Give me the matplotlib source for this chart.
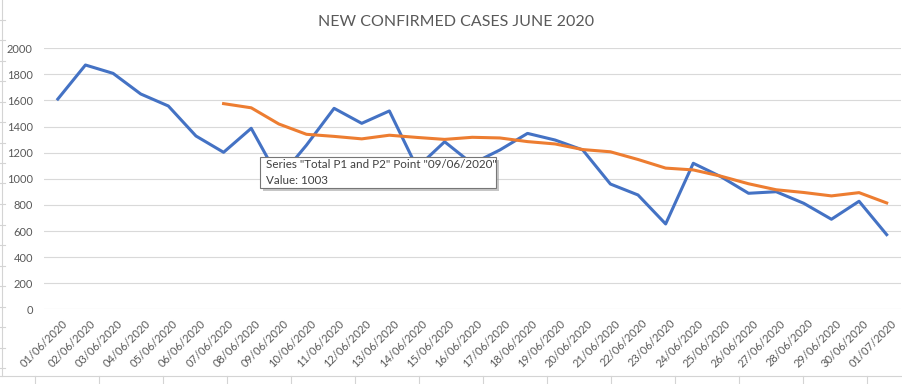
import matplotlib
matplotlib.use("Agg")
import matplotlib.pyplot as plt
from matplotlib.lines import Line2D
from matplotlib.patches import Rectangle
from matplotlib.transforms import ScaledTranslation

plt.rcParams['font.family'] = ['Lato', 'DejaVu Sans']

# data
dates = ["01/06/2020", "02/06/2020", "03/06/2020", "04/06/2020", "05/06/2020",
         "06/06/2020", "07/06/2020", "08/06/2020", "09/06/2020", "10/06/2020",
         "11/06/2020", "12/06/2020", "13/06/2020", "14/06/2020", "15/06/2020",
         "16/06/2020", "17/06/2020", "18/06/2020", "19/06/2020", "20/06/2020",
         "21/06/2020", "22/06/2020", "23/06/2020", "24/06/2020", "25/06/2020",
         "26/06/2020", "27/06/2020", "28/06/2020", "29/06/2020", "30/06/2020",
         "01/07/2020"]
total_p1_p2 = [1611, 1872, 1808, 1650, 1558, 1328, 1203, 1387, 1003, 1258,
               1540, 1425, 1520, 1085, 1284, 1115, 1221, 1348, 1297, 1221,
               960, 876, 654, 1119, 1016, 889, 901, 812, 690, 828, 572]
# 7 day average, starts on 07/06
avg_start = 6
avg_7day = [1576, 1544, 1420, 1341, 1325, 1306, 1334, 1317, 1302, 1318,
            1313, 1285, 1267, 1224, 1207, 1148, 1082, 1068, 1020, 962,
            916, 895, 869, 894, 815]
y_ticks = [0, 200, 400, 600, 800, 1000, 1200, 1400, 1600, 1800, 2000]

W, H = 902, 384
fig = plt.figure(figsize=(W / 100, H / 100), dpi=100)

def fx(x):
    return x / W

def fy(y):
    return 1 - y / H

# plot area in pixels: x 44..900.5, y 48.3..309.3
ax = fig.add_axes([fx(44), fy(309.3), fx(900.5) - fx(44), fy(48.3) - fy(309.3)])

x = list(range(len(dates)))
ax.plot(x, total_p1_p2, color="#4472C4", lw=2.2, solid_joinstyle="round")
ax.plot(x[avg_start:], avg_7day, color="#ED7D31", lw=2.2, solid_joinstyle="round")

ax.set_xlim(-0.5, len(dates) - 0.5)
ax.set_ylim(0, 2000)
ax.set_yticks(y_ticks)
ax.set_xticks(x)
ax.set_xticklabels(dates, rotation=45, ha="right", va="top", rotation_mode="anchor")
ax.grid(axis="y", color="#d9d9d9", lw=0.8)
ax.set_axisbelow(True)
for s in ax.spines.values():
    s.set_visible(False)
ax.tick_params(axis="both", length=0, colors="#595959", labelsize=8)
ax.tick_params(axis="y", pad=8)
ax.tick_params(axis="x", pad=6)
shift = ScaledTranslation(4 / 100, 0, fig.dpi_scale_trans)
for lab in ax.get_xticklabels():
    lab.set_transform(lab.get_transform() + shift)

fig.text(fx(456), fy(22), "NEW CONFIRMED CASES JUNE 2020", ha="center", va="center",
         fontsize=11.5, color="#595959")

# hover tooltip
tx0, ty0, tx1, ty1 = 260, 157, 496, 188
fig.patches.append(Rectangle((fx(tx0 + 3), fy(ty1 + 3)), fx(tx1 - tx0), fy(ty0) - fy(ty1),
                             transform=fig.transFigure, facecolor="#a0a0a0", edgecolor="none",
                             alpha=0.6, zorder=5))
fig.patches.append(Rectangle((fx(tx0), fy(ty1)), fx(tx1 - tx0), fy(ty0) - fy(ty1),
                             transform=fig.transFigure, facecolor="white", edgecolor="#767676",
                             lw=0.8, zorder=6))
fig.text(fx(266), fy(165), 'Series "Total P1 and P2" Point "09/06/2020"', ha="left", va="center",
         fontsize=8.4, color="#404040", zorder=7)
fig.text(fx(266), fy(180), "Value: 1003", ha="left", va="center",
         fontsize=8.4, color="#404040", zorder=7)

# spreadsheet cell lines around the chart
cell = "#d4d4d4"
fig.add_artist(Line2D([0, 1], [fy(376), fy(376)], color=cell, lw=0.8))
fig.add_artist(Line2D([fx(2), fx(2)], [fy(376), 1], color=cell, lw=0.8))
cx = 35
while cx < W:
    fig.add_artist(Line2D([fx(cx), fx(cx)], [0, fy(376)], color=cell, lw=0.8))
    cx += 64
ry = 368
while ry > 0:
    fig.add_artist(Line2D([0, fx(5)], [fy(ry), fy(ry)], color=cell, lw=0.8))
    ry -= 20.5

fig.savefig("out.png", dpi=100, facecolor="white")
